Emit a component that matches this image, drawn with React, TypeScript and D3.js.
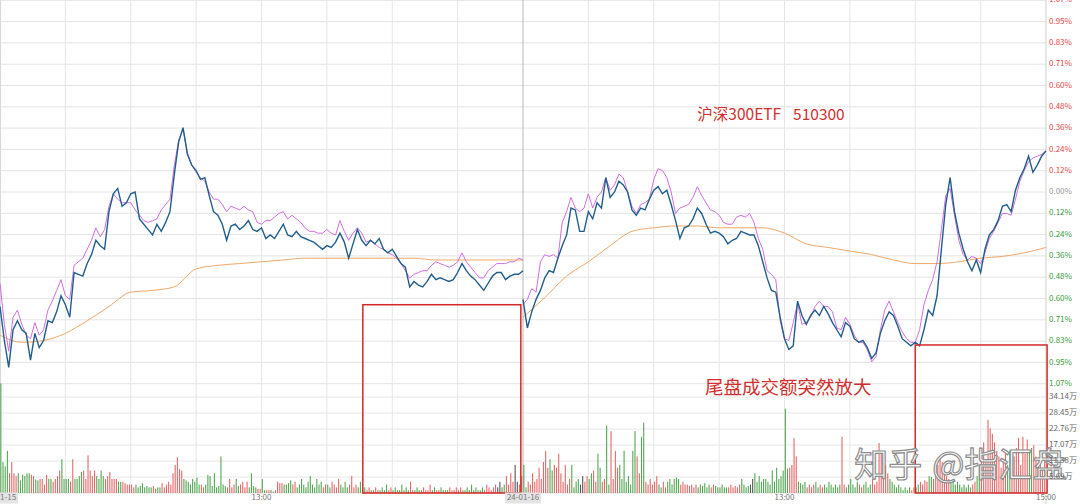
import React from "react";
import * as d3 from "d3";

// 分时数据：每 2 分钟一个点（09:30 起，每日 121 个点），单位为涨跌幅 %
const day1Price = [
  -0.64, -0.83, -0.98, -0.77, -0.72, -0.77, -0.79, -0.94, -0.79, -0.87,
  -0.83, -0.72, -0.73, -0.67, -0.58, -0.63, -0.7, -0.45, -0.46, -0.47,
  -0.4, -0.35, -0.27, -0.3, -0.32, -0.11, -0.01, 0.02, -0.08, -0.06,
  -0.01, 0.0, -0.15, -0.18, -0.21, -0.24, -0.18, -0.22, -0.17, -0.11,
  0.1, 0.28, 0.36, 0.21, 0.15, 0.12, 0.07, 0.08, -0.02, -0.11,
  -0.13, -0.18, -0.27, -0.19, -0.18, -0.21, -0.19, -0.16, -0.21, -0.22,
  -0.2, -0.26, -0.24, -0.26, -0.22, -0.18, -0.24, -0.25, -0.22, -0.25,
  -0.26, -0.27, -0.28, -0.3, -0.32, -0.3, -0.31, -0.28, -0.23, -0.28,
  -0.37, -0.29, -0.21, -0.27, -0.3, -0.27, -0.29, -0.26, -0.32, -0.34,
  -0.32, -0.36, -0.4, -0.42, -0.53, -0.5, -0.52, -0.53, -0.5, -0.46,
  -0.49, -0.48, -0.49, -0.5, -0.49, -0.45, -0.4, -0.44, -0.47, -0.49,
  -0.52, -0.55, -0.51, -0.47, -0.45, -0.45, -0.49, -0.47, -0.46, -0.46,
  -0.44,
];
const day1Index = [
  -0.51, -0.74, -0.89, -0.7, -0.66, -0.74, -0.8, -0.82, -0.73, -0.8,
  -0.77, -0.66, -0.61, -0.55, -0.49, -0.58, -0.6, -0.41, -0.39, -0.37,
  -0.32, -0.27, -0.2, -0.25, -0.21, -0.08, -0.01, -0.04, -0.06, -0.06,
  -0.06, -0.1, -0.13, -0.16, -0.17, -0.16, -0.15, -0.1, -0.07, -0.04,
  0.15, 0.29, 0.35, 0.22, 0.15, 0.11, 0.08, 0.06, 0.0, -0.04,
  -0.04, -0.07, -0.11, -0.08, -0.09, -0.1, -0.08, -0.1, -0.11, -0.17,
  -0.18, -0.16, -0.16, -0.14, -0.12, -0.11, -0.15, -0.13, -0.15, -0.17,
  -0.2, -0.22, -0.22, -0.23, -0.23, -0.21, -0.23, -0.24, -0.16, -0.22,
  -0.27, -0.23, -0.2, -0.23, -0.28, -0.27, -0.29, -0.31, -0.32, -0.34,
  -0.35, -0.37, -0.4, -0.44, -0.48, -0.46, -0.45, -0.44, -0.44, -0.41,
  -0.39, -0.4, -0.41, -0.42, -0.41, -0.39, -0.34, -0.39, -0.42, -0.45,
  -0.48, -0.48, -0.44, -0.42, -0.4, -0.4, -0.4, -0.39, -0.39, -0.37,
  -0.38,
];
// 均价线：每 10 分钟一个点
const day1Avg = [
  -0.8, -0.84, -0.83, -0.79, -0.72, -0.64, -0.56, -0.55, -0.53, -0.43,
  -0.41, -0.4, -0.39, -0.38, -0.37, -0.37, -0.37, -0.37, -0.37, -0.37,
  -0.38, -0.38, -0.38, -0.38, -0.38,
];

const day2Price = [
  -0.6, -0.76, -0.67, -0.6, -0.55, -0.48, -0.44, -0.45, -0.37, -0.3,
  -0.24, -0.09, -0.1, -0.22, -0.22, -0.11, -0.15, -0.06, -0.09, 0.08,
  -0.03, 0.0, 0.06, 0.04, 0.0, -0.1, -0.13, -0.09, -0.1, -0.04,
  0.01, 0.03, -0.01, 0.01, -0.07, -0.16, -0.26, -0.2, -0.19, -0.15,
  -0.09, -0.12, -0.18, -0.23, -0.22, -0.23, -0.25, -0.29, -0.27, -0.26,
  -0.22, -0.23, -0.24, -0.24, -0.3, -0.39, -0.48, -0.55, -0.56, -0.7,
  -0.82, -0.88, -0.86, -0.61, -0.69, -0.74, -0.69, -0.66, -0.69, -0.64,
  -0.68, -0.73, -0.77, -0.81, -0.73, -0.75, -0.82, -0.84, -0.83, -0.87,
  -0.93, -0.9, -0.79, -0.72, -0.67, -0.69, -0.75, -0.82, -0.84, -0.86,
  -0.84, -0.86, -0.77, -0.66, -0.69, -0.58, -0.32, -0.07, 0.08, -0.11,
  -0.23, -0.32, -0.39, -0.44, -0.38, -0.45, -0.32, -0.24, -0.21, -0.16,
  -0.08, -0.07, -0.11, 0.01, 0.08, 0.13, 0.2, 0.11, 0.15, 0.2,
  0.23,
];
const day2Index = [
  -0.63, -0.6, -0.54, -0.56, -0.39, -0.35, -0.36, -0.35, -0.37, -0.17,
  -0.11, -0.03, -0.09, -0.11, -0.09, -0.01, -0.09, -0.03, 0.0, 0.08,
  0.01, 0.04, 0.1, 0.08, 0.0, -0.08, -0.12, -0.07, -0.06, -0.04,
  0.07, 0.13, 0.12, 0.08, 0.0, -0.12, -0.09, -0.08, -0.07, -0.03,
  0.03, -0.02, -0.06, -0.1, -0.11, -0.13, -0.17, -0.18, -0.18, -0.14,
  -0.13, -0.14, -0.12, -0.17, -0.26, -0.32, -0.44, -0.46, -0.49, -0.72,
  -0.82, -0.83, -0.73, -0.62, -0.74, -0.73, -0.7, -0.64, -0.61, -0.64,
  -0.64, -0.67, -0.76, -0.77, -0.7, -0.74, -0.8, -0.84, -0.84, -0.88,
  -0.95, -0.92, -0.77, -0.66, -0.61, -0.67, -0.73, -0.78, -0.82, -0.84,
  -0.84, -0.77, -0.63, -0.55, -0.49, -0.39, -0.21, -0.02, 0.02, -0.13,
  -0.27, -0.35, -0.38, -0.36, -0.37, -0.4, -0.34, -0.26, -0.22, -0.17,
  -0.12, -0.12, -0.13, -0.04, 0.06, 0.12, 0.17, 0.19, 0.2, 0.21,
  0.23,
];
const day2Avg = [
  -0.7, -0.59, -0.47, -0.39, -0.3, -0.22, -0.2, -0.19, -0.19, -0.2,
  -0.2, -0.2, -0.23, -0.29, -0.31, -0.33, -0.35, -0.38, -0.4, -0.4,
  -0.39, -0.37, -0.36, -0.34, -0.31,
];

// 每分钟成交量（万）
const day1Volume = [
  39, 11, 9.5, 15, 7, 11, 7, 6, 7, 4.5, 6.5, 6, 7, 7, 6.5, 6, 4.8, 4.5, 5, 5, 3, 6.5, 5, 5, 4, 5, 6, 8, 12, 5,
  5, 5, 4, 12, 5, 5, 6, 7.5, 8, 5, 13.4, 8, 6, 8, 6, 5, 8, 6, 5, 6, 7.5, 5, 5, 5, 4, 4, 4, 3.5, 3, 3,
  3, 2, 3, 2, 2.5, 3.5, 2, 2.5, 2, 2, 2.5, 1.5, 2, 2, 3.5, 2, 3, 4, 3, 7, 10, 12.7, 8.5, 8, 5, 4.5, 4, 3, 5, 4,
  5.5, 3, 3, 2, 3, 6.5, 6, 2.5, 7, 2, 2.5, 13, 3, 2.5, 2, 5, 2, 3, 5, 2.5, 3, 4, 2, 4, 2, 7, 2.5, 2, 1.5, 1.5,
  5, 1, 1, 1, 1, 0.5, 1, 4, 3.5, 3.5, 3, 3, 3.5, 4.5, 3, 4, 2, 3, 5, 3, 2, 4, 6, 3, 2, 5, 3, 4, 2, 3,
  3, 2, 4, 3, 2, 5, 3, 2, 4, 2, 3, 6, 2, 3, 2, 4, 1, 2, 1, 2, 1, 1, 2, 1, 1, 2, 1, 3, 1, 2,
  1, 2, 1, 1, 3, 1, 2, 1, 4, 1, 1, 2, 1, 1, 2, 1, 1, 3, 1, 2, 1, 1, 2, 1, 1, 1, 2, 1, 1, 2,
  1, 2, 1, 1, 2, 1, 3, 1, 2, 1, 1, 2, 1, 3, 2, 1, 2, 3, 2, 4, 2, 3, 6, 3, 7, 4, 10, 4, 3, 6,
];
const day2Volume = [
  10, 2, 4, 3, 7, 4, 5, 9, 5, 11, 15, 9, 12, 8, 10, 9, 14, 7, 4, 10, 3, 5, 10, 2, 4, 5, 3, 6, 4, 6,
  5, 7, 8, 4, 14, 9, 4, 5, 24, 3, 22, 5, 15, 9, 10, 5, 15, 4, 6, 3, 15, 22, 13, 7, 20, 25, 4, 3, 5, 3,
  4, 6, 3, 2, 4, 2, 4, 5, 3, 5, 5.5, 5, 3, 4, 3, 3, 2.5, 3, 2, 3, 2, 3, 2.5, 3.5, 2, 3, 2, 3, 2.5, 2,
  2, 3, 2, 2, 2, 3, 2, 2.5, 2, 3, 5, 3, 2, 2.5, 3, 5, 7, 4, 6, 4, 5, 5, 4, 3, 8, 4, 9, 5, 6, 8,
  30, 8.7, 9, 10, 19.5, 13, 4, 3.5, 3, 4, 2, 3, 2, 3, 4, 2, 3, 2, 3, 2, 4, 3, 2, 3, 2, 3, 20, 3, 2, 3,
  5, 3, 2, 4, 3, 2, 3, 4, 2, 3, 5, 3, 4, 17.8, 14, 12, 10, 7, 5, 4, 3, 2, 3, 2, 1, 2, 1, 2, 1, 2,
  2, 3, 4, 3, 4.5, 4, 6, 5.7, 5, 6, 10, 12, 11, 8, 6, 5, 4, 5, 3, 4, 3, 2, 3, 2, 3, 2, 3, 4, 6, 10,
  16, 18, 12, 26, 23, 21, 18, 15, 13, 9, 12, 14, 10, 15, 12, 13, 16, 19.5, 10, 20, 14, 19, 15, 16, 17, 13, 9, 11, 8, 12,
];

const pctMax = 1.0715;
const pctLabels = [
  "1.07%", "0.95%", "0.83%", "0.71%", "0.60%", "0.48%", "0.36%", "0.24%", "0.12%", "0.00%",
  "0.12%", "0.24%", "0.36%", "0.48%", "0.60%", "0.71%", "0.83%", "0.95%", "1.07%",
];
const volTicks = [34.14, 28.45, 22.76, 17.07, 11.38, 5.69];
const volLabels = ["34.14万", "28.45万", "22.76万", "17.07万", "11.38万", "5.69万"];
const timeLabels = [
  { minute: 0, text: "24-01-15", boxed: true },
  { minute: 120, text: "13:00", boxed: false },
  { minute: 240, text: "24-01-16", boxed: true },
  { minute: 360, text: "13:00", boxed: false },
  { minute: 480, text: "15:00", boxed: false },
];
// 红框标注：起止分钟与上沿涨跌幅
const boxes = [
  { from: 166.5, to: 239, top: -0.63 },
  { from: 420, to: 480.5, top: -0.855 },
];
const notes = [
  { minute: 320, pct: 0.4, parts: ["沪深300ETF", "510300"], size: 15.5 },
  { minute: 323.5, pct: -1.13, parts: ["尾盘成交额突然放大"], size: 18.5 },
];

const FONT = '"Noto Sans CJK SC", "Noto Sans", sans-serif';

export default function App() {
  const width = 1080;
  const height = 504;
  const plotRight = 1046;

  const x = d3.scaleLinear().domain([0, 480]).range([0, plotRight]);
  const y = d3.scaleLinear().domain([-pctMax, pctMax]).range([383.7, 0.3]);
  const yv = d3.scaleLinear().domain([0, 34.14]).range([493, 397]);

  const line = d3
    .line<[number, number]>()
    .x((d) => x(d[0]))
    .y((d) => y(d[1]));
  const smooth = d3
    .line<[number, number]>()
    .x((d) => x(d[0]))
    .y((d) => y(d[1]))
    .curve(d3.curveMonotoneX);

  const pts = (arr: number[], start: number, step: number) =>
    arr.map((v, i) => [start + i * step, v] as [number, number]);

  const days = [
    { start: 0, price: day1Price, index: day1Index, avg: day1Avg, vol: day1Volume },
    { start: 240, price: day2Price, index: day2Index, avg: day2Avg, vol: day2Volume },
  ];

  // 量柱颜色跟随当分钟价格涨跌
  const bars = days.flatMap((d) =>
    d.vol.map((v, m) => {
      const k = Math.floor(m / 2);
      const diff = d.price[k + 1] - d.price[k];
      const color = diff > 0 ? "#e36a6a" : diff < 0 ? "#55a855" : "#555";
      return { g: d.start + m, v, color };
    })
  );

  const gridVertical = d3.range(30, 480, 30).filter((m) => m !== 240);

  return (
    <svg
      width={width}
      height={height}
      style={{ position: "absolute", left: 0, top: 0, background: "#fff" }}
      fontFamily={FONT}
    >
      <rect width={width} height={height} fill="#fff" />
      {/* 网格 */}
      {pctLabels.map((_, i) => (
        <line
          key={"h" + i}
          x1={0}
          x2={plotRight}
          y1={y((pctMax * (9 - i)) / 9)}
          y2={y((pctMax * (9 - i)) / 9)}
          stroke="#e4e4e4"
        />
      ))}
      {volTicks.map((v) => (
        <line key={"hv" + v} x1={0} x2={plotRight} y1={yv(v)} y2={yv(v)} stroke="#e8e8e8" />
      ))}
      {gridVertical.map((m) => (
        <line key={"v" + m} x1={x(m)} x2={x(m)} y1={0} y2={yv(0)} stroke="#e6e6e6" />
      ))}
      <line x1={0.5} x2={0.5} y1={0} y2={yv(0)} stroke="#d8d8d8" />
      <line x1={x(240)} x2={x(240)} y1={0} y2={yv(0)} stroke="#b8b8b8" />
      <line x1={plotRight} x2={plotRight} y1={0} y2={height} stroke="#d0d0d0" />
      <line x1={0} x2={plotRight} y1={yv(0)} y2={yv(0)} stroke="#e0e0e0" />

      {/* 分时线 */}
      {days.map((d, i) => (
        <g key={"d" + i} fill="none">
          <path d={smooth(pts(d.avg, d.start, 10)) || ""} stroke="#f0a868" strokeWidth={1} />
          <path d={line(pts(d.index, d.start, 2)) || ""} stroke="#cf6fe0" strokeWidth={1} />
          <path d={line(pts(d.price, d.start, 2)) || ""} stroke="#215e8c" strokeWidth={1.4} />
        </g>
      ))}

      {/* 成交量 */}
      {bars.map((b) => (
        <rect
          key={"b" + b.g}
          x={x(b.g) + 0.3}
          width={1.1}
          y={yv(b.v)}
          height={yv(0) - yv(b.v)}
          fill={b.color}
        />
      ))}

      {/* 标注 */}
      {boxes.map((b, i) => (
        <rect
          key={"box" + i}
          x={x(b.from)}
          y={y(b.top)}
          width={x(b.to) - x(b.from)}
          height={yv(0) - y(b.top)}
          fill="none"
          stroke="#d62828"
          strokeWidth={1.5}
        />
      ))}
      {notes.map((n, i) => (
        <text key={"n" + i} x={x(n.minute)} y={y(n.pct)} fontSize={n.size} fill="#d32f2f">
          {n.parts.map((p, j) => (
            <tspan key={j} dx={j === 0 ? 0 : 12}>
              {p}
            </tspan>
          ))}
        </text>
      ))}
      <text
        x={x(392)}
        y={477}
        fontSize={34}
        fill="#fff"
        fillOpacity={0.92}
        stroke="#8c8c8c"
        strokeWidth={1.2}
      >
        <tspan>知乎</tspan>
        <tspan dx={10}>@指汇盘</tspan>
      </text>

      {/* 右侧坐标 */}
      {pctLabels.map((t, i) => (
        <text
          key={"pl" + i}
          x={plotRight + 3}
          y={y((pctMax * (9 - i)) / 9)}
          dominantBaseline="middle"
          fontSize={8}
          fill={i < 9 ? "#e04848" : i === 9 ? "#999" : "#3d9a3d"}
        >
          {t}
        </text>
      ))}
      {volTicks.map((v, i) => (
        <text
          key={"vl" + i}
          x={plotRight + 3}
          y={yv(v)}
          dominantBaseline="middle"
          fontSize={8}
          fill="#666"
        >
          {volLabels[i]}
        </text>
      ))}

      {/* 时间轴 */}
      {timeLabels.map((t) => (
        <g key={"t" + t.minute} transform={`translate(${x(t.minute)},498)`}>
          {t.boxed && <rect x={-18} y={-5.5} width={36} height={11} fill="#e4e4e4" />}
          <text textAnchor="middle" dominantBaseline="middle" fontSize={8} fill="#777">
            {t.text}
          </text>
        </g>
      ))}
    </svg>
  );
}
